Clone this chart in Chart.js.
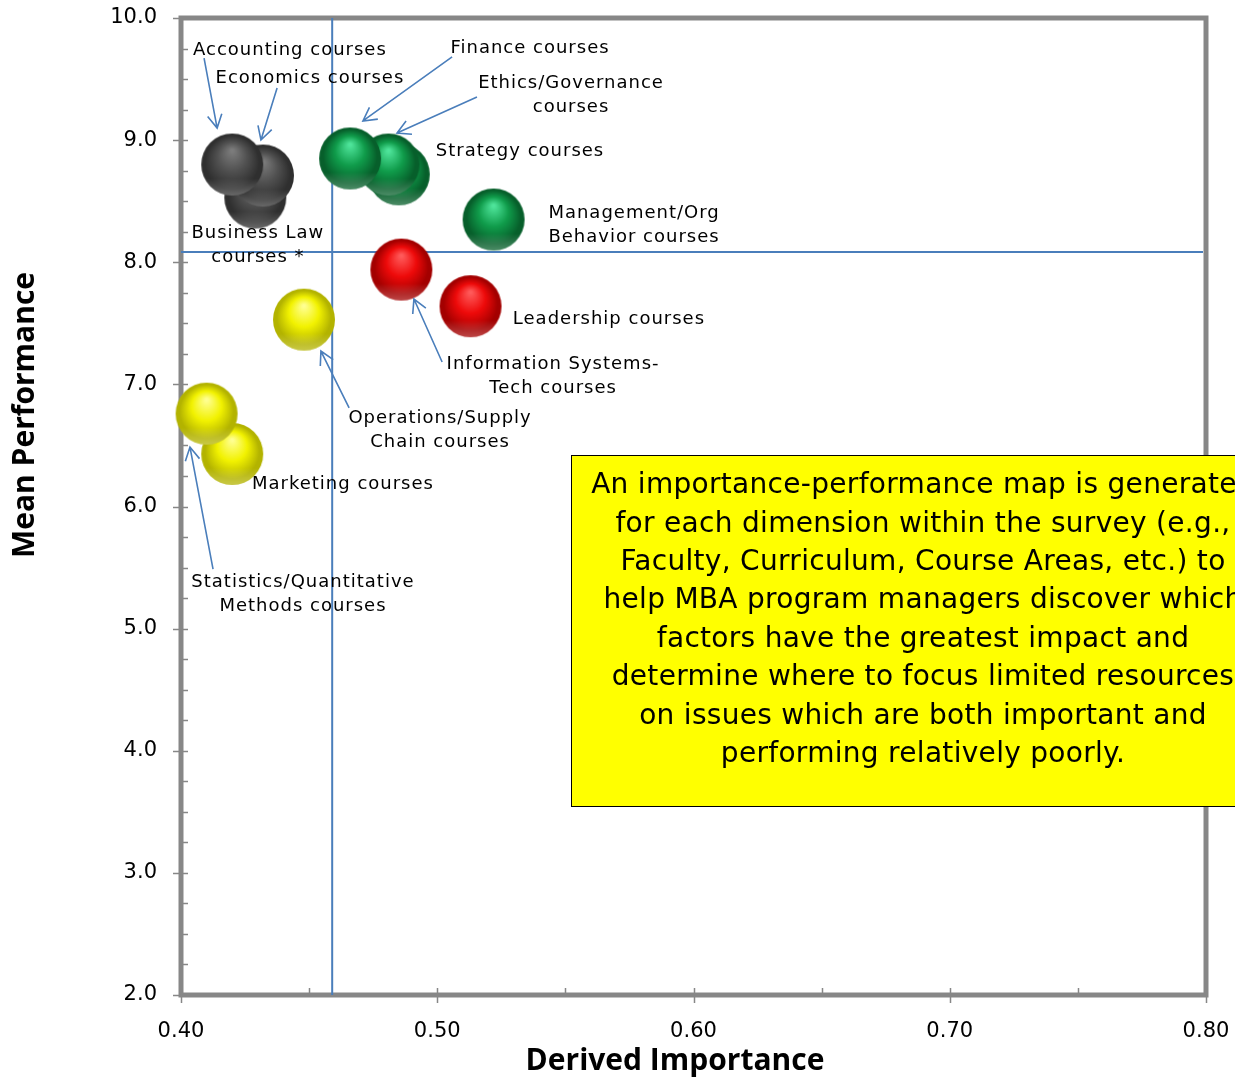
<!DOCTYPE html>
<html>
<head>
<meta charset="utf-8">
<script src="https://cdn.jsdelivr.net/npm/chart.js@4.4.1/dist/chart.umd.min.js"></script>
<style>
  html, body { margin:0; padding:0; background:#fff; }
  #wrap { width:1235px; height:1078px; position:relative; }
</style>
</head>
<body>
<div id="wrap"><canvas id="ipMap"></canvas></div>
<script>
// ── Importance-performance map: course areas ──
// drawn back to front, so later entries sit on top
const courseNames = ['Business Law', 'Economics', 'Accounting', 'Strategy', 'Ethics/Governance', 'Finance',
  'Management/Org Behavior', 'Information Systems-Tech', 'Leadership', 'Operations/Supply Chain', 'Marketing', 'Statistics/Quantitative Methods'];
const importance  = [0.429, 0.432, 0.420, 0.485, 0.481, 0.466, 0.522, 0.486, 0.513, 0.448, 0.420, 0.410];
const performance = [8.53, 8.71, 8.80, 8.72, 8.80, 8.85, 8.35, 7.94, 7.64, 7.53, 6.43, 6.76];
const quadrant    = ['grey', 'grey', 'grey', 'green', 'green', 'green', 'green', 'red', 'red', 'yellow', 'yellow', 'yellow'];

const xTicks = [0.40, 0.50, 0.60, 0.70, 0.80];
const yTicks = [2, 3, 4, 5, 6, 7, 8, 9, 10];
const meanImportance = 0.459;
const meanPerformance = 8.084;

// callout labels: lines, block centre (data units)
const labelLines = [['Accounting courses'], ['Economics courses'], ['Finance courses'], ['Ethics/Governance', 'courses'],
  ['Strategy courses'], ['Management/Org', 'Behavior courses'], ['Business Law', 'courses *'], ['Leadership courses'],
  ['Information Systems-', 'Tech courses'], ['Operations/Supply', 'Chain courses'], ['Marketing courses'],
  ['Statistics/Quantitative', 'Methods courses']];
const labelX = [0.4425, 0.4503, 0.5362, 0.5522, 0.5323, 0.5768, 0.4300, 0.5670, 0.5452, 0.5011, 0.4632, 0.4476];
const labelY = [9.738, 9.509, 9.754, 9.370, 8.911, 8.305, 8.141, 7.535, 7.069, 6.626, 6.184, 5.284];

// arrows: from label towards bubble (data units)
const arrowFrom = [[0.4090, 9.672], [0.4375, 9.427], [0.5058, 9.681], [0.5155, 9.353], [0.5019, 7.183], [0.4656, 6.807], [0.4125, 5.488]];
const arrowTo   = [[0.4141, 9.099], [0.4312, 9.001], [0.4710, 9.157], [0.4843, 9.058], [0.4909, 7.699], [0.4546, 7.273], [0.4035, 6.487]];

const noteLines = ['An importance-performance map is generated', 'for each dimension within the survey (e.g.,',
  'Faculty, Curriculum, Course Areas, etc.) to', 'help MBA program managers discover which',
  'factors have the greatest impact and', 'determine where to focus limited resources',
  'on issues which are both important and', 'performing relatively poorly.'];

const BLUE = '#4a7ebb', FRAME = '#878787';

function sphere(light, base, dark, r) {
  const c = document.createElement('canvas');
  c.width = c.height = 2 * r + 2;
  const g = c.getContext('2d');
  const cx = r + 1, cy = r + 1;
  const grad = g.createRadialGradient(cx, cy - r * 0.45, r * 0.04, cx, cy, r * 1.02);
  grad.addColorStop(0, light);
  grad.addColorStop(0.45, base);
  grad.addColorStop(0.85, dark);
  grad.addColorStop(1, dark);
  g.fillStyle = grad;
  g.beginPath(); g.arc(cx, cy, r, 0, Math.PI * 2); g.fill();
  // lighter rim at the bottom
  g.save();
  g.beginPath(); g.arc(cx, cy, r, 0, Math.PI * 2); g.clip();
  const lg = g.createLinearGradient(0, cy + r * 0.45, 0, cy + r);
  lg.addColorStop(0, 'rgba(255,255,255,0)');
  lg.addColorStop(1, 'rgba(255,255,255,0.28)');
  g.fillStyle = lg;
  g.fillRect(0, cy, c.width, r + 1);
  g.restore();
  return c;
}

const R = 31;
const sprites = {
  grey:   sphere('#7c7c7c', '#505050', '#2f2f2f', R),
  green:  sphere('#4ee49a', '#109c4b', '#075f2b', R),
  red:    sphere('#ff5a5a', '#ee0a0a', '#a30000', R),
  yellow: sphere('#ffff90', '#f2f200', '#b3b300', R)
};

function arrow(ctx, x1, y1, x2, y2) {
  const a = Math.atan2(y2 - y1, x2 - x1), L = 15, w = 0.5;
  ctx.beginPath();
  ctx.moveTo(x1, y1); ctx.lineTo(x2, y2);
  ctx.moveTo(x2 - L * Math.cos(a - w), y2 - L * Math.sin(a - w));
  ctx.lineTo(x2, y2);
  ctx.lineTo(x2 - L * Math.cos(a + w), y2 - L * Math.sin(a + w));
  ctx.stroke();
}

function noPad(s) { s.paddingTop = 0; s.paddingBottom = 0; s.paddingLeft = 0; s.paddingRight = 0; }

const deco = {
  id: 'deco',
  beforeDatasetsDraw(chart) {
    const { ctx, chartArea: a, scales: { x, y } } = chart;
    ctx.save();
    // frame + ticks
    ctx.strokeStyle = FRAME; ctx.lineWidth = 5;
    ctx.strokeRect(a.left, a.top, a.right - a.left, a.bottom - a.top);
    ctx.lineWidth = 1.5;
    ctx.beginPath();
    for (let v = 2; v <= 10.001; v += 0.25) {
      const py = Math.round(y.getPixelForValue(v)) + 0.5;
      const major = Math.abs(v - Math.round(v)) < 1e-6;
      ctx.moveTo(major ? a.left - 8 : a.left, py); ctx.lineTo(a.left + 7, py);
    }
    for (let v = 0.40; v <= 0.8001; v += 0.05) {
      const px = Math.round(x.getPixelForValue(v)) + 0.5;
      const major = Math.abs(v * 10 - Math.round(v * 10)) < 1e-6;
      ctx.moveTo(px, major ? a.bottom + 8 : a.bottom); ctx.lineTo(px, a.bottom - 7);
    }
    ctx.stroke();
    // mean lines
    ctx.strokeStyle = BLUE; ctx.lineWidth = 2;
    const mx = x.getPixelForValue(meanImportance), my = y.getPixelForValue(meanPerformance);
    ctx.beginPath();
    ctx.moveTo(mx, a.top); ctx.lineTo(mx, a.bottom);
    ctx.moveTo(a.left, my); ctx.lineTo(a.right - 3, my);
    ctx.stroke();
    ctx.restore();
  },
  afterDatasetsDraw(chart) {
    const { ctx, scales: { x, y } } = chart;
    ctx.save();
    ctx.font = '18px "DejaVu Sans"';
    ctx.letterSpacing = '1px';
    ctx.fillStyle = '#000'; ctx.textAlign = 'center'; ctx.textBaseline = 'middle';
    labelLines.forEach((lines, i) => {
      const cx = x.getPixelForValue(labelX[i]), cy = y.getPixelForValue(labelY[i]);
      const top = cy - (lines.length - 1) * 12;
      lines.forEach((t, j) => ctx.fillText(t, cx, top + j * 24));
    });
    ctx.letterSpacing = '0px';
    ctx.strokeStyle = BLUE; ctx.lineWidth = 1.6;
    arrowFrom.forEach((f, i) => {
      const t = arrowTo[i];
      arrow(ctx, x.getPixelForValue(f[0]), y.getPixelForValue(f[1]), x.getPixelForValue(t[0]), y.getPixelForValue(t[1]));
    });
    ctx.restore();
  },
  afterDraw(chart) {
    const { ctx } = chart;
    ctx.save();
    ctx.fillStyle = '#000';
    ctx.font = 'bold 30px "Open Sans"';
    ctx.textAlign = 'center'; ctx.textBaseline = 'middle';
    ctx.fillText('Derived Importance', 675, 1061);
    ctx.translate(25, 415); ctx.rotate(-Math.PI / 2);
    ctx.fillText('Mean Performance', 0, 0);
    ctx.restore();
    // note box
    ctx.save();
    ctx.fillStyle = '#ffff00'; ctx.strokeStyle = '#000'; ctx.lineWidth = 1;
    ctx.fillRect(571, 455, 720, 351);
    ctx.strokeRect(571.5, 455.5, 720, 351);
    ctx.fillStyle = '#000'; ctx.font = '28px "DejaVu Sans"';
    ctx.letterSpacing = '0.3px';
    ctx.textAlign = 'center'; ctx.textBaseline = 'middle';
    noteLines.forEach((t, i) => ctx.fillText(t, 923, 486 + i * 38.4));
    ctx.restore();
  }
};

new Chart(document.getElementById('ipMap'), {
  type: 'scatter',
  data: {
    datasets: [{
      data: importance.map((v, i) => ({ x: v, y: performance[i] })),
      pointStyle: quadrant.map(q => sprites[q]),
      clip: false
    }]
  },
  options: {
    responsive: true, maintainAspectRatio: false, animation: false,
    layout: { padding: { top: 18, right: 29, left: 0, bottom: 0 } },
    plugins: { legend: { display: false }, tooltip: { enabled: false } },
    scales: {
      x: {
        min: 0.4, max: 0.8,
        afterFit: s => { s.height = 83; noPad(s); },
        afterBuildTicks: s => { s.ticks = xTicks.map(v => ({ value: v })); },
        grid: { display: false, drawTicks: false }, border: { display: false },
        ticks: { padding: 24, color: '#000', font: { family: 'DejaVu Sans', size: 21 }, callback: v => v.toFixed(2), maxRotation: 0 }
      },
      y: {
        min: 2, max: 10,
        afterFit: s => { s.width = 181; noPad(s); },
        afterBuildTicks: s => { s.ticks = yTicks.map(v => ({ value: v })); },
        grid: { display: false, drawTicks: false }, border: { display: false },
        ticks: { padding: 24, color: '#000', font: { family: 'DejaVu Sans', size: 21 }, callback: v => v.toFixed(1) }
      }
    }
  },
  plugins: [deco]
});
</script>
</body>
</html>
